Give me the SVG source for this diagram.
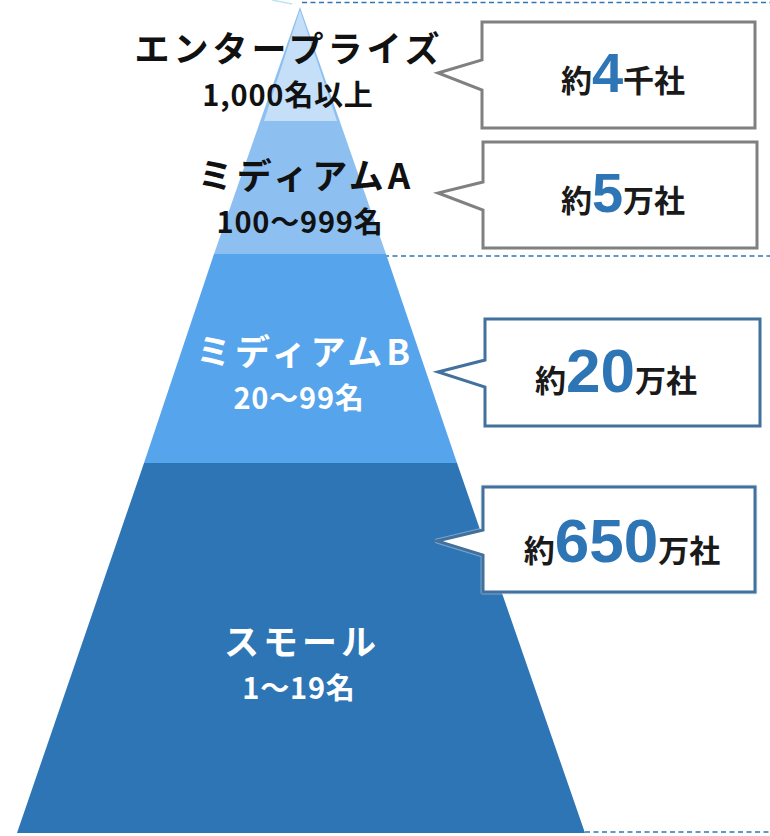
<svg xmlns="http://www.w3.org/2000/svg" width="770" height="836" viewBox="0 0 770 836">
<style>
.lbl{font-family:"Noto Sans CJK JP","Noto Sans",sans-serif;font-weight:700;text-anchor:middle}
.dark{fill:#111}
.white{fill:#fff}
.big{font-size:35px;letter-spacing:4px}
.sub{font-size:29px;letter-spacing:0.8px}
.call{fill:#fff;stroke-width:3;stroke-linejoin:miter}
.gray{stroke:#808080}
.blue{stroke:#41719C}
.ct{font-family:"Noto Sans CJK JP","Noto Sans",sans-serif;font-weight:700;font-size:31px;fill:#1a1a1a;text-anchor:middle}
.num{font-family:"Liberation Sans",Arial,sans-serif;font-weight:700;fill:#2E75B6}
.dash{stroke:#2E75B6;stroke-width:1.5;stroke-dasharray:5 3.5;fill:none}
</style>
<g id="connectors">
<line class="dash" x1="302" y1="2.5" x2="770" y2="2.5"/>
<line class="dash" x1="384" y1="256" x2="770" y2="256"/>
<line class="dash" x1="585" y1="832" x2="770" y2="832"/>
<line x1="272" y1="0" x2="292" y2="4" stroke="#BDE3F5" stroke-width="1.5"/>
</g>
<g id="layer-small">
<polygon points="144,463 457,463 585,833 17,833" fill="#2E75B6"/>
<text class="lbl white big" x="302" y="655">スモール</text>
<text class="lbl white sub" x="299" y="699">1〜19名</text>
</g>
<g id="layer-mediumB">
<polygon points="214,254 386,254 457,463 144,463" fill="#55A4EC"/>
<text class="lbl white big" x="305" y="365">ミディアムB</text>
<text class="lbl white sub" x="299" y="409">20〜99名</text>
</g>
<g id="layer-mediumA">
<polygon points="300,7 386,254 214,254" fill="#8DC0F0"/>
<polygon points="300,10 337,121 264,121" fill="#C5DFF8"/>
</g>
<g id="label-enterprise">
<text class="lbl dark big" x="289" y="62">エンタープライズ</text>
<text class="lbl dark sub" x="288" y="106">1,000名以上</text>
</g>
<g id="label-mediumA">
<text class="lbl dark big" x="306" y="189">ミディアムA</text>
<text class="lbl dark sub" x="300" y="233">100〜999名</text>
</g>
<g id="callout-enterprise">
<path class="call gray" d="M482,22 L755,22 L755,128 L482,128 L482,90 L438,73 L482,60 Z"/>
<text class="ct" x="623" y="92">約<tspan class="num" font-size="56">4</tspan>千社</text>
</g>
<g id="callout-mediumA">
<path class="call gray" d="M483,142 L757,142 L757,248 L483,248 L483,210 L438,193 L483,182 Z"/>
<text class="ct" x="623" y="212">約<tspan class="num" font-size="56">5</tspan>万社</text>
</g>
<g id="callout-mediumB">
<path class="call blue" d="M485,319 L760,319 L760,426 L485,426 L485,387 L438,372 L485,360 Z"/>
<text class="ct" x="616" y="392">約<tspan class="num" font-size="62">20</tspan>万社</text>
</g>
<g id="callout-small">
<path d="M483,487 L755,487 L755,592 L483,592 L483,555 L437,541 L483,530 Z" fill="none" stroke="#C3D6EA" stroke-width="5" stroke-linejoin="round" opacity="0.5"/>
<path class="call blue" d="M483,487 L755,487 L755,592 L483,592 L483,555 L437,541 L483,530 Z"/>
<text class="ct" x="622" y="562">約<tspan class="num" font-size="62">650</tspan>万社</text>
</g>
</svg>
